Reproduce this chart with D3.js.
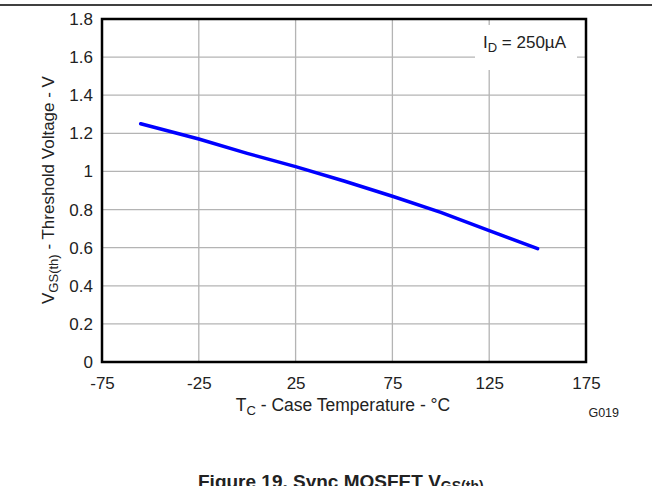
<!DOCTYPE html>
<html>
<head>
<meta charset="utf-8">
<script src="https://cdn.jsdelivr.net/npm/d3@7"></script>
<style>
  body { margin: 0; background: #fff; }
  text { font-family: "Liberation Sans", Arial, sans-serif; fill: #222; }
</style>
</head>
<body>
<svg id="chart"></svg>
<script>
// case temperature (°C) and threshold voltage (V)
const temps = [-55, -25, 0, 25, 50, 75, 100, 125, 150];
const vth = [1.25, 1.17, 1.095, 1.025, 0.95, 0.87, 0.785, 0.69, 0.595];
const xTicks = [-75, -25, 25, 75, 125, 175];
const yTicks = [0, 0.2, 0.4, 0.6, 0.8, 1, 1.2, 1.4, 1.6, 1.8];

const width = 652, height = 486;
const margin = { top: 19, right: 66, bottom: 124, left: 102 };
const w = width - margin.left - margin.right;
const h = height - margin.top - margin.bottom;
const fs = 17;

const svg = d3.select("#chart").attr("width", width).attr("height", height);

// page rule at top
svg.append("line")
    .attr("x1", 0).attr("x2", width).attr("y1", 5).attr("y2", 5)
    .attr("stroke", "#000").attr("stroke-width", 1.5);

const g = svg.append("g").attr("transform", `translate(${margin.left},${margin.top})`);

const x = d3.scaleLinear().domain([-75, 175]).range([0, w]);
const y = d3.scaleLinear().domain([0, 1.8]).range([h, 0]);

// grid
g.append("g").selectAll("line").data(xTicks.slice(1, -1)).join("line")
    .attr("x1", d => x(d)).attr("x2", d => x(d)).attr("y1", 0).attr("y2", h)
    .attr("stroke", "#b4b4b4").attr("stroke-width", 1.3);
g.append("g").selectAll("line").data(yTicks.slice(1, -1)).join("line")
    .attr("x1", 0).attr("x2", w).attr("y1", d => y(d)).attr("y2", d => y(d))
    .attr("stroke", "#b4b4b4").attr("stroke-width", 1.3);

// axes (labels only)
const xAxis = g.append("g").attr("transform", `translate(0,${h})`)
    .call(d3.axisBottom(x).tickValues(xTicks).tickSize(0).tickPadding(15).tickFormat(d => String(d)));
const yAxis = g.append("g")
    .call(d3.axisLeft(y).tickValues(yTicks).tickSize(0).tickPadding(9).tickFormat(d => d3.format("~g")(d)));
[xAxis, yAxis].forEach(a => {
    a.select(".domain").remove();
    a.attr("font-size", fs).attr("font-family", "Liberation Sans, Arial, sans-serif");
    a.selectAll("text").style("font-size", fs + "px").attr("fill", "#222");
});

// legend box
const leg = g.append("g");
leg.append("rect").attr("x", 373).attr("y", 6).attr("width", 102).attr("height", 45).attr("fill", "#fff");
const lt = leg.append("text").attr("x", 381).attr("y", 29).style("font-size", fs + "px");
lt.append("tspan").text("I");
lt.append("tspan").style("font-size", "13px").attr("dy", 4).text("D");
lt.append("tspan").attr("dy", -4).text(" = 250\u00b5A");

// data line
const line = d3.line().x((d, i) => x(temps[i])).y(d => y(d));
g.append("path").datum(vth)
    .attr("fill", "none").attr("stroke", "#0000ff").attr("stroke-width", 3.5)
    .attr("stroke-linecap", "round").attr("d", line);

// frame
g.append("rect").attr("width", w).attr("height", h)
    .attr("fill", "none").attr("stroke", "#000").attr("stroke-width", 2.5);

// axis titles
const xt = svg.append("text").attr("x", 343).attr("y", 411)
    .attr("text-anchor", "middle").style("font-size", "17.5px");
xt.append("tspan").text("T");
xt.append("tspan").style("font-size", "13px").attr("dy", 4).text("C");
xt.append("tspan").attr("dy", -4).text(" - Case Temperature - \u00b0C");

const yt = svg.append("text")
    .attr("transform", "translate(54,190) rotate(-90)")
    .attr("text-anchor", "middle").style("font-size", "17px");
yt.append("tspan").text("V");
yt.append("tspan").style("font-size", "13px").attr("dy", 4).text("GS(th)");
yt.append("tspan").attr("dy", -4).text(" - Threshold Voltage - V");

svg.append("text").attr("x", 619).attr("y", 417).attr("text-anchor", "end")
    .style("font-size", "12.5px").text("G019");

// figure caption (cut off at the bottom)
const cap = svg.append("text").attr("x", 198).attr("y", 488)
    .style("font-size", "19px").attr("font-weight", "bold").attr("fill", "#000");
cap.append("tspan").text("Figure 19. Sync MOSFET V");
cap.append("tspan").style("font-size", "14px").attr("dy", 3).text("GS(th)");
</script>
</body>
</html>
